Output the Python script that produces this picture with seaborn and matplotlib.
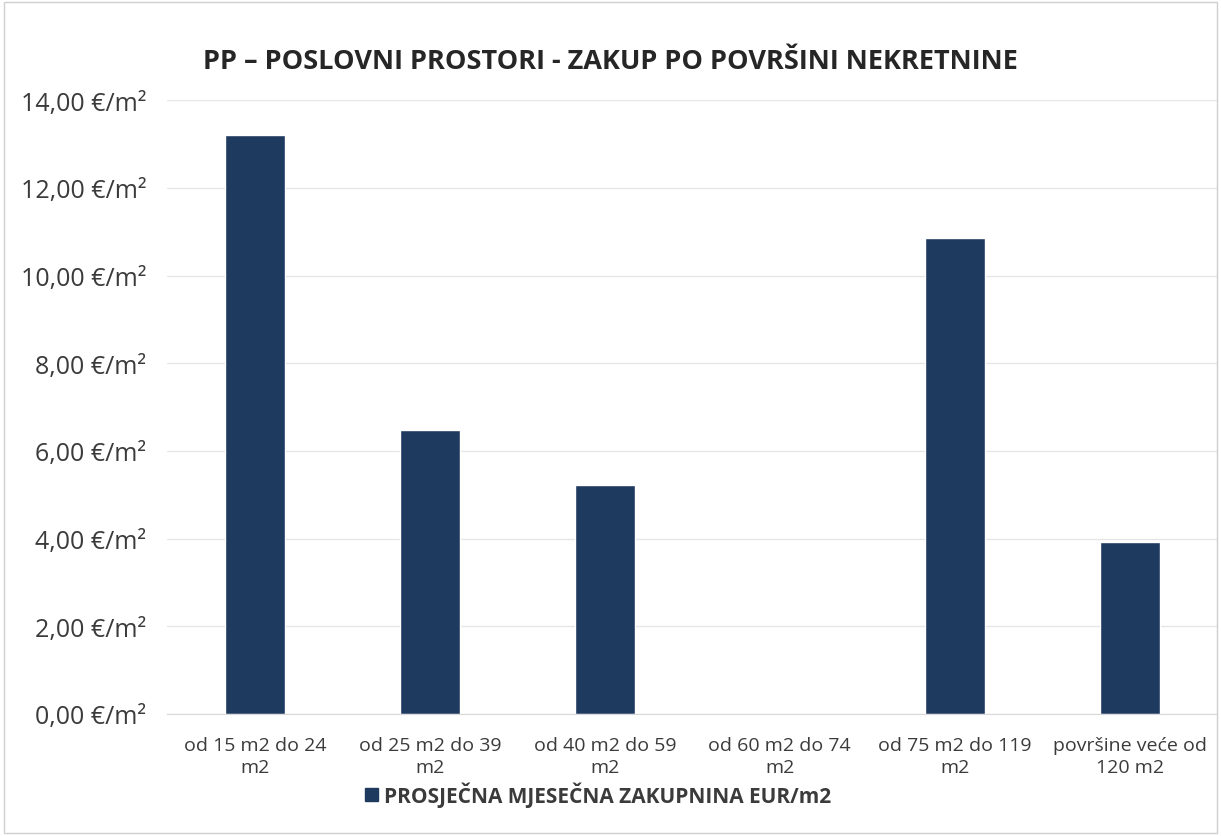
import matplotlib
matplotlib.use("Agg")
import matplotlib.pyplot as plt
import seaborn as sns
import pandas as pd
from matplotlib.ticker import FuncFormatter
from matplotlib.patches import Patch

categories = ["od 15 m2 do 24\nm2", "od 25 m2 do 39\nm2", "od 40 m2 do 59\nm2",
              "od 60 m2 do 74\nm2", "od 75 m2 do 119\nm2", "površine veće od\n120 m2"]
values = [13.2, 6.47, 5.22, 0.0, 10.85, 3.92]
series_name = "PROSJEČNA MJESEČNA ZAKUPNINA EUR/m2"
title = "PP – POSLOVNI PROSTORI - ZAKUP PO POVRŠINI NEKRETNINE"

df = pd.DataFrame({"kategorija": categories, "vrijednost": values})

sns.set_style("white")
plt.rcParams["font.family"] = ["Open Sans", "DejaVu Sans"]

bar_color = "#1f3a5f"
text_color = "#3b3b3b"

fig = plt.figure(figsize=(12.21, 8.37), dpi=100)
ax = fig.add_axes([0.137, 0.146, 0.86, 0.733])

sns.barplot(data=df, x="kategorija", y="vrijednost", color=bar_color,
            width=0.34, saturation=1, ax=ax)

ax.set_ylim(0, 14)
ax.set_yticks(range(0, 15, 2))
ax.yaxis.set_major_formatter(FuncFormatter(lambda v, p: f"{v:.2f}".replace(".", ",") + " €/m²"))
ax.grid(axis="y", color="#e6e6e6", linewidth=1)
ax.set_axisbelow(True)
for s in ["top", "right", "left"]:
    ax.spines[s].set_visible(False)
ax.spines["bottom"].set_color("#d9d9d9")
ax.tick_params(axis="y", labelsize=18, colors=text_color, length=0, pad=15)
ax.tick_params(axis="x", labelsize=14, colors=text_color, length=0, pad=16)
for lbl in ax.get_xticklabels():
    lbl.set_linespacing(1.3)
ax.set_xlabel("")
ax.set_ylabel("")

fig.text(0.5, 0.926, title, ha="center", va="center", fontsize=19.5,
         fontweight="bold", color="#262626")

fig.legend(handles=[Patch(color=bar_color, label=series_name)], loc="center",
           bbox_to_anchor=(0.49, 0.05), frameon=False, handlelength=0.6, handleheight=0.6,
           handletextpad=0.3, prop={"size": 15, "weight": "bold"}, labelcolor=text_color)

border = plt.Rectangle((0.003, 0.003), 0.994, 0.994, transform=fig.transFigure,
                       fill=False, edgecolor="#cfcfcf", linewidth=1)
fig.patches.append(border)

fig.savefig("out.png", dpi=100)
